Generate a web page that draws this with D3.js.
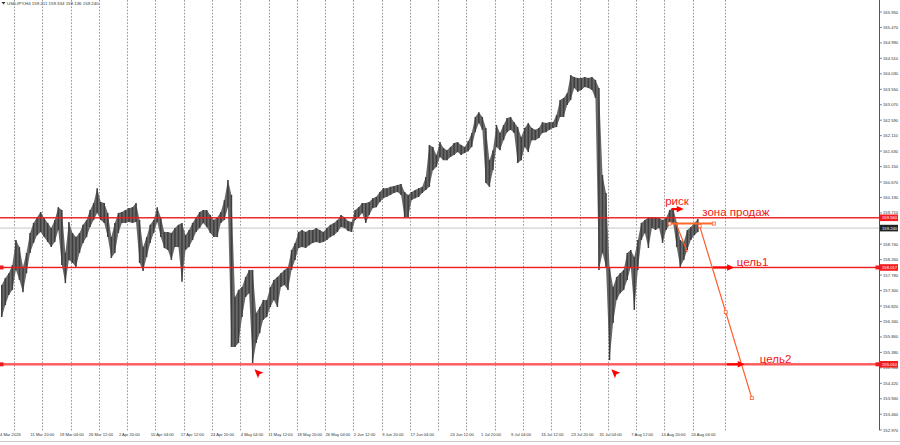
<!DOCTYPE html>
<html><head><meta charset="utf-8">
<script src="https://cdn.jsdelivr.net/npm/d3@7"></script>
<style>html,body{margin:0;padding:0;background:#fff;overflow:hidden}svg{display:block}</style>
</head><body><svg id="c" width="900" height="445"></svg>
<script>
// ---------------- DATA ----------------
const symbolTitle = "USDJPY,H4  159.211 159.334 159.136 159.240";
const barsPerColumn = 4; // each column aggregates 4 H4 bars (high/low)
const highs = [
157.47,157.69,157.84,158.09,158.87,158.65,158.03,158.47,159.09,159.40,
159.58,159.74,159.55,159.40,159.24,159.49,159.89,159.80,158.47,159.43,
159.09,158.96,159.09,159.34,159.49,159.80,160.02,160.48,160.05,160.02,
159.71,158.96,159.40,159.71,159.74,159.80,159.86,159.89,160.02,159.49,
158.65,158.96,159.34,159.49,159.89,159.58,159.12,159.12,159.09,159.24,
159.34,159.40,159.02,159.18,159.40,159.58,159.74,159.80,159.80,159.65,
159.49,159.58,159.74,160.11,160.73,160.27,157.10,157.32,157.41,157.72,
157.94,157.94,156.60,156.79,157.01,157.01,157.41,157.63,157.72,157.84,
157.94,158.03,158.56,158.78,159.12,159.18,159.12,159.18,159.18,159.24,
159.18,159.12,159.24,159.34,159.40,159.49,159.65,159.58,159.46,159.43,
159.80,159.89,160.02,160.02,160.05,160.17,160.21,160.36,160.48,160.48,
160.52,160.55,160.58,160.61,160.36,160.27,160.36,160.42,160.48,160.52,
160.83,161.82,161.76,161.51,161.91,161.73,161.66,161.76,161.88,161.91,
161.82,161.76,161.94,162.19,162.69,162.84,162.69,162.35,161.35,161.66,
162.44,162.19,162.44,162.66,162.69,162.53,162.38,162.07,162.35,162.50,
162.35,162.29,162.35,162.53,162.50,162.53,162.53,162.75,163.22,163.28,
163.43,163.99,163.93,163.90,163.90,163.93,163.90,163.93,163.84,163.59,
160.89,160.33,158.03,157.41,157.72,157.84,157.94,158.47,158.56,158.34,
158.87,159.40,159.49,159.58,159.58,159.58,159.55,159.49,159.55,159.80,
159.86,159.43,158.87,158.81,159.18,159.27,159.40,159.52];
const lows = [
156.48,156.85,157.16,157.32,157.94,157.63,157.25,157.84,158.47,158.78,
159.02,159.12,158.96,158.81,158.65,158.81,159.18,158.09,157.53,158.25,
158.16,158.03,158.47,158.78,158.96,159.27,159.49,159.71,159.49,159.40,
158.96,158.31,158.47,159.09,159.40,159.40,159.43,159.40,159.43,158.16,
157.91,158.34,158.78,159.09,159.43,158.96,158.62,158.56,158.25,158.65,
158.65,157.57,158.56,158.65,158.87,159.12,159.24,159.40,159.27,159.09,
158.96,158.96,159.40,159.49,159.89,155.55,155.55,155.67,156.48,157.10,
157.22,155.05,155.67,155.98,156.39,156.48,156.79,157.01,156.79,157.41,
157.47,157.32,157.94,158.25,158.62,158.65,158.62,158.71,158.78,158.81,
158.78,158.81,158.87,158.96,159.02,159.12,159.27,159.24,159.15,159.12,
159.49,159.58,159.71,159.40,159.65,159.86,159.89,160.05,160.17,160.21,
160.27,160.33,160.36,160.27,159.58,159.58,160.11,160.17,160.21,160.33,
160.42,160.52,161.04,161.14,161.45,161.35,161.35,161.45,161.51,161.60,
161.51,161.57,161.63,161.76,162.22,162.50,162.29,160.64,160.52,161.04,
161.76,161.66,161.97,162.22,162.29,162.19,161.26,161.35,161.76,161.60,
161.97,161.97,162.04,162.19,162.22,162.29,162.35,162.38,162.69,162.69,
163.06,163.22,163.59,163.47,163.53,163.62,163.59,163.53,163.28,157.94,
158.47,158.03,155.14,156.29,157.01,157.22,157.32,157.63,158.03,156.70,
157.94,158.87,159.09,158.62,159.24,159.18,159.24,158.78,159.18,159.34,
159.40,158.65,158.03,158.25,158.56,158.87,159.02,159.12];

const priceTicks = ["165.950","165.470","164.990","164.510","164.030","163.550","163.070",
  "162.590","162.110","161.630","161.150","160.670","160.190","159.710","158.740","158.260",
  "157.780","157.300","156.820","156.340","155.860","155.380","154.900","154.420","153.940",
  "153.460","152.970"];
const dateLabels = ["4 Mar 2026","11 Mar 20:00","19 Mar 04:00","26 Mar 12:00","2 Apr 20:00",
  "10 Apr 04:00","17 Apr 12:00","24 Apr 20:00","4 May 04:00","11 May 12:00","18 May 20:00",
  "26 May 04:00","2 Jun 12:00","9 Jun 20:00","17 Jun 04:00","24 Jun 12:00","1 Jul 20:00",
  "9 Jul 04:00","16 Jul 12:00","23 Jul 20:00","31 Jul 04:00","7 Aug 12:00","14 Aug 20:00",
  "24 Aug 04:00"];
const dateLabelBars = [0,34,67,100,134,170,204,238,272,303,336,368,400,432,464,509,544,578,612,646,678,714,748,782];
const gridFirstBar = 16, gridStep = 32, gridCount = 25;
const extraGridBars = [821];

const levelPrices = [159.560, 158.017, 155.010];
const levelLabels = ["159.560", "158.017", "155.010"];
const currentPrice = 159.240;
const currentLabel = "159.240";

// analysis drawings [bar, price]
const zoneLine = [[758, 159.38], [808, 159.38]];
const riskPath = [[765, 159.40], [778, 158.50]];
const targetPath = [[792, 159.30], [851, 153.96]];
const arrows = [ [[760, 159.83], [774, 159.83]], [[807, 158.017], [831, 158.017]], [[823, 155.01], [843, 155.01]] ];
const notes = [
  {text: "риск", bar: 753, price: 159.96},
  {text: "зона продаж", bar: 795, price: 159.63},
  {text: "цель1", bar: 834, price: 158.07},
  {text: "цель2", bar: 860, price: 155.06}];
const pointerMarks = [[288, 154.86], [692, 154.86]];

// ---------------- CHART ----------------
const svg = d3.select("#c");
const W = 900, plotR = 879, plotB = 430;
const x = d3.scaleLinear().domain([0, 995]).range([0, plotR]);
const y = d3.scaleLinear().domain([152.97, 166.323]).range([plotB, 0]);
const crisp = v => Math.round(v) + 0.5;

// vertical dotted grid
const gridBars = d3.range(gridCount).map(k => gridFirstBar + gridStep * k).concat(extraGridBars);
svg.append("g").selectAll("line").data(gridBars).join("line")
  .attr("x1", d => crisp(x(d))).attr("x2", d => crisp(x(d)))
  .attr("y1", 0).attr("y2", plotB + 2)
  .attr("stroke", "#7c7c7c").attr("stroke-width", 0.8).attr("stroke-dasharray", "1.6,1.6");

// current price line
svg.append("rect").attr("x", 0).attr("width", plotR).attr("y", y(currentPrice) - 0.7).attr("height", 1.4)
  .attr("fill", "#d6d6d6");

// price band (high/low per column)
const cols = highs.map((h, i) => ({h, l: lows[i], c: i * barsPerColumn + 2}));
const band = d3.area().x(d => x(d.c)).y0(d => y(d.l)).y1(d => y(d.h)).curve(d3.curveLinear);
svg.append("path").datum(cols).attr("d", band).attr("fill", "#686868");
svg.append("g").selectAll("line").data(cols).join("line")
  .attr("x1", d => x(d.c)).attr("x2", d => x(d.c))
  .attr("y1", d => y(d.h)).attr("y2", d => y(d.l))
  .attr("stroke", "#3e3e3e").attr("stroke-width", 1.5);

// horizontal levels
levelPrices.forEach((p, i) => {
  const thick = i === 2;
  const h = thick ? 2.4 : 1.4;
  svg.append("rect").attr("x", 0).attr("width", plotR).attr("y", y(p) - h / 2).attr("height", h)
    .attr("fill", thick ? "#ff5a5a" : "#f01c1c");
  if (i > 0) {
    svg.append("rect").attr("x", 0).attr("y", y(p) - 2).attr("width", 3.5).attr("height", 4).attr("fill", "#f01c1c");
    svg.append("rect").attr("x", plotR - 3.5).attr("y", y(p) - 2).attr("width", 3.5).attr("height", 4).attr("fill", "#f01c1c");
  }
});

// orange analysis lines
const orange = "#ff5c2b";
const lineGen = d3.line().x(d => x(d[0])).y(d => y(d[1]));
svg.append("path").attr("d", lineGen(zoneLine)).attr("stroke", "#ff6a2a").attr("stroke-width", 2).attr("fill", "none");
[riskPath, targetPath].forEach(pth => {
  svg.append("path").attr("d", lineGen(pth)).attr("stroke", orange).attr("stroke-width", 1.2).attr("fill", "none");
});
const handles = [zoneLine[0], zoneLine[1], targetPath[0], targetPath[1],
  [(targetPath[0][0] + targetPath[1][0]) / 2, (targetPath[0][1] + targetPath[1][1]) / 2]];
svg.append("g").selectAll("rect").data(handles).join("rect")
  .attr("x", d => x(d[0]) - 1.5).attr("y", d => y(d[1]) - 1.5).attr("width", 3).attr("height", 3)
  .attr("fill", "#fff").attr("stroke", orange).attr("stroke-width", 0.8);

// red arrows
arrows.forEach(a => {
  const x1 = x(a[0][0]), x2 = x(a[1][0]), yy = y(a[0][1]);
  svg.append("line").attr("x1", x1).attr("x2", x2 - 5).attr("y1", yy).attr("y2", yy)
    .attr("stroke", "#f00").attr("stroke-width", 2.2);
  svg.append("path").attr("d", `M${x2},${yy} L${x2 - 7},${yy - 3.2} L${x2 - 7},${yy + 3.2} Z`).attr("fill", "#f00");
});

// notes
svg.append("g").selectAll("text").data(notes).join("text")
  .attr("x", d => x(d.bar)).attr("y", d => y(d.price))
  .attr("font-family", "Liberation Sans, Arial, sans-serif").attr("font-size", 11.5)
  .attr("fill", "#f01818").text(d => d.text);

// pointer marks
svg.append("g").selectAll("path").data(pointerMarks).join("path")
  .attr("transform", d => `translate(${x(d[0])},${y(d[1])})`)
  .attr("d", "M0,0 L9,3.6 L5,5 L3.6,9 Z").attr("fill", "#f00");

// right axis
svg.append("line").attr("x1", plotR + 0.5).attr("x2", plotR + 0.5).attr("y1", 0).attr("y2", plotB)
  .attr("stroke", "#555").attr("stroke-width", 1);
const axisFont = "Liberation Sans, Arial, sans-serif";
const tickG = svg.append("g");
tickG.selectAll("line").data(priceTicks).join("line")
  .attr("x1", plotR).attr("x2", plotR + 3).attr("y1", d => y(+d)).attr("y2", d => y(+d))
  .attr("stroke", "#555").attr("stroke-width", 0.7);
tickG.selectAll("text").data(priceTicks).join("text")
  .attr("x", plotR + 4).attr("y", d => y(+d) + 1.5)
  .attr("font-family", axisFont).attr("font-size", 4.2).attr("fill", "#333").text(d => d);

// level price boxes
levelPrices.forEach((p, i) => {
  svg.append("rect").attr("x", plotR + 1).attr("y", y(p) - 3.3).attr("width", 18).attr("height", 6.6).attr("fill", "#f21d1d");
  svg.append("text").attr("x", plotR + 3).attr("y", y(p) + 1.5).attr("font-family", axisFont)
    .attr("font-size", 4.2).attr("fill", "#fff").text(levelLabels[i]);
});
svg.append("rect").attr("x", plotR + 1).attr("y", y(currentPrice) - 3.3).attr("width", 18).attr("height", 6.6).attr("fill", "#222");
svg.append("text").attr("x", plotR + 3).attr("y", y(currentPrice) + 1.5).attr("font-family", axisFont)
  .attr("font-size", 4.2).attr("fill", "#fff").text(currentLabel);

// date labels
svg.append("g").selectAll("text").data(dateLabels).join("text")
  .attr("x", (d, i) => x(dateLabelBars[i]) + (i === 0 ? 0 : 0.5)).attr("y", plotB + 6)
  .attr("font-family", axisFont).attr("font-size", 4.1).attr("fill", "#333").text(d => d);

// bottom border
svg.append("line").attr("x1", 0).attr("x2", W).attr("y1", 441.5).attr("y2", 441.5).attr("stroke", "#c8c8c8");

// title
svg.append("path").attr("d", "M1.5,2 L5.5,2 L3.5,4.5 Z").attr("fill", "#333");
svg.append("text").attr("x", 7).attr("y", 4.8).attr("font-family", axisFont).attr("font-size", 4.4)
  .attr("fill", "#333").text(symbolTitle);
</script></body></html>
